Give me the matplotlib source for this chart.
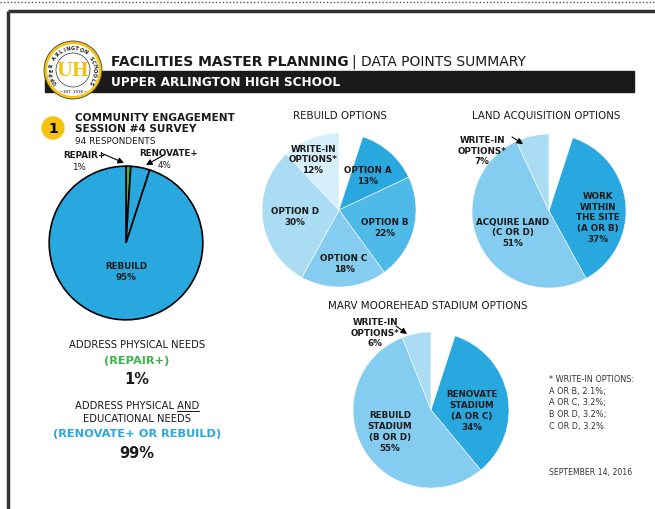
import numpy as np
import matplotlib
matplotlib.use("Agg")
import matplotlib.pyplot as plt
from matplotlib.patches import Circle, Rectangle

plt.rcParams['font.family'] = ['DejaVu Sans']

W, H = 655, 509

# ---------------- data ----------------
survey_labels = ["REPAIR+", "RENOVATE+", "REBUILD"]
survey_values = [1, 4, 95]

rebuild_labels = ["OPTION A", "OPTION B", "OPTION C", "OPTION D", "WRITE-IN\nOPTIONS*"]
rebuild_values = [13, 22, 18, 30, 12]

land_labels = ["WORK\nWITHIN\nTHE SITE\n(A OR B)", "ACQUIRE LAND\n(C OR D)", "WRITE-IN\nOPTIONS*"]
land_values = [37, 51, 7]

stadium_labels = ["RENOVATE\nSTADIUM\n(A OR C)", "REBUILD\nSTADIUM\n(B OR D)", "WRITE-IN\nOPTIONS*"]
stadium_values = [34, 55, 6]

writein_notes = ["* WRITE-IN OPTIONS:", "A OR B, 2.1%;", "A OR C, 3.2%;", "B OR D, 3.2%;", "C OR D, 3.2%."]

BLUE = "#29a8e0"
GREEN = "#3cb44a"
YELLOW = "#f5c30f"
DARK = "#1a1a1a"

fig = plt.figure(figsize=(W / 100, H / 100), dpi=100)
bg = fig.add_axes([0, 0, 1, 1])
bg.set_xlim(0, W)
bg.set_ylim(H, 0)
bg.axis("off")
bg.set_zorder(10)
bg.patch.set_alpha(0)

# frame
bg.plot([0, W], [2, 2], ls=(0, (1, 1.5)), color="#555555", lw=1)
bg.plot([8, 8], [11, H], color="#333333", lw=2.5, solid_capstyle="butt")
bg.plot([8, W], [11, 11], color="#333333", lw=2.5, solid_capstyle="butt")

# header bar
bg.add_patch(Rectangle((45, 71), 634 - 45, 21, color=DARK, zorder=2))
t1 = bg.text(111, 62, "FACILITIES MASTER PLANNING", fontsize=10.0, fontweight="bold",
             color=DARK, va="center", ha="left")
bg.text(111, 82, "UPPER ARLINGTON HIGH SCHOOL", fontsize=8.7, fontweight="bold",
        color="white", va="center", ha="left", zorder=3)

# logo
lx, ly, lr = 73, 70, 29
bg.add_patch(Circle((lx, ly), lr, facecolor=YELLOW, edgecolor="#444444", lw=0.6, zorder=4))
bg.add_patch(Circle((lx, ly), lr - 3, facecolor="white", edgecolor="none", zorder=4))
bg.add_patch(Circle((lx, ly), lr - 12, facecolor="white", edgecolor="#333333", lw=0.5, zorder=5))
bg.text(lx, ly + 1, "UH", fontsize=13, fontweight="bold", color=YELLOW, ha="center",
        va="center", zorder=6, family="DejaVu Serif")
ring_text = "UPPER ARLINGTON SCHOOLS"
angs = np.linspace(215, -35, len(ring_text))
for ch, a in zip(ring_text, angs):
    ar = np.deg2rad(a)
    bg.text(lx + (lr - 7.5) * np.cos(ar), ly - (lr - 7.5) * np.sin(ar), ch, fontsize=3.6,
            fontweight="bold", ha="center", va="center", rotation=a - 90, zorder=6, color=DARK)
bg.text(lx, ly + lr - 7.5, "• EST. 1918 •", fontsize=2.8, ha="center", va="center", zorder=6)

# section 1 header
bg.add_patch(Circle((53, 128), 11, color=YELLOW, zorder=3))
bg.text(53, 129, "1", fontsize=10, fontweight="bold", ha="center", va="center", zorder=4)
bg.text(75, 118, "COMMUNITY ENGAGEMENT", fontsize=7.6, fontweight="bold", color=DARK, va="center")
bg.text(75, 129, "SESSION #4 SURVEY", fontsize=7.6, fontweight="bold", color=DARK, va="center")
bg.text(75, 141, "94 RESPONDENTS", fontsize=6.4, color=DARK, va="center")


def pie_axes(cx, cy, r):
    ax = fig.add_axes([(cx - r) / W, 1 - (cy + r) / H, 2 * r / W, 2 * r / H])
    return ax


def fix_lims(ax):
    ax.set_xlim(-1.0, 1.0)
    ax.set_ylim(-1.0, 1.0)
    ax.axis("off")


# survey pie
ax1 = pie_axes(126, 243, 78)
ax1.pie(survey_values, colors=[GREEN, BLUE, BLUE], startangle=90, counterclock=False,
        radius=0.985, wedgeprops=dict(edgecolor="black", linewidth=1.2))
fix_lims(ax1)

lab_kw = dict(fontsize=6.3, fontweight="bold", color=DARK, ha="center", va="center",
              linespacing=1.25)
bg.text(84, 155, survey_labels[0], **lab_kw)
bg.text(79, 167, f"{survey_values[0]}%", fontsize=6.3, color=DARK, ha="center", va="center")
bg.text(169, 153, survey_labels[1], **lab_kw)
bg.text(165, 165, f"{survey_values[1]}%", fontsize=6.3, color=DARK, ha="center", va="center")
bg.text(126, 272, f"{survey_labels[2]}\n{survey_values[2]}%", **lab_kw)
arrow = dict(arrowstyle="-|>,head_length=0.35,head_width=0.18", color="black", lw=0.8,
             shrinkA=0, shrinkB=0)
bg.annotate("", xy=(124, 163), xytext=(101, 153), arrowprops=arrow)
bg.annotate("", xy=(146, 165), xytext=(164, 155), arrowprops=arrow)


def gap_pie(ax, values, colors):
    total = sum(values)
    start = 90 - (100 - total) * 3.6
    ax.pie([v / 100 for v in values], colors=colors, startangle=start, counterclock=False,
           normalize=False, radius=1, wedgeprops=dict(edgecolor="white", linewidth=0.4))
    fix_lims(ax)


# rebuild options
bg.text(340, 116, "REBUILD OPTIONS", fontsize=7.4, color=DARK, ha="center", va="center")
ax2 = pie_axes(339, 210, 77)
gap_pie(ax2, rebuild_values, [BLUE, "#4fb9e8", "#84cdf0", "#aadcf3", "#d6eefa"])
pos2 = [(368, 176), (385, 228), (344, 264), (295, 217), (313, 160)]
for (x, y), lab, v in zip(pos2, rebuild_labels, rebuild_values):
    bg.text(x, y, f"{lab}\n{v}%", **lab_kw)

# land acquisition
bg.text(546, 116, "LAND ACQUISITION OPTIONS", fontsize=7.4, color=DARK, ha="center", va="center")
ax3 = pie_axes(549, 211, 77)
gap_pie(ax3, land_values, [BLUE, "#84cdf0", "#aadcf3"])
pos3 = [(598, 218), (513, 233), (482, 151)]
for (x, y), lab, v in zip(pos3, land_labels, land_values):
    bg.text(x, y, f"{lab}\n{v}%", **lab_kw)
bg.annotate("", xy=(523, 144), xytext=(512, 137), arrowprops=arrow)

# stadium
bg.text(328, 306, "MARV MOOREHEAD STADIUM OPTIONS", fontsize=7.4, color=DARK, ha="left", va="center")
ax4 = pie_axes(431, 410, 78)
gap_pie(ax4, stadium_values, [BLUE, "#84cdf0", "#aadcf3"])
pos4 = [(472, 411), (390, 432), (375, 333)]
for (x, y), lab, v in zip(pos4, stadium_labels, stadium_values):
    bg.text(x, y, f"{lab}\n{v}%", **lab_kw)
bg.annotate("", xy=(407, 334), xytext=(396, 326), arrowprops=arrow)

# footnote
for i, t in enumerate(writein_notes):
    bg.text(549, 380 + i * 11.5, t, fontsize=5.9, color="#333333", ha="left", va="center")
bg.text(549, 473, "SEPTEMBER 14, 2016", fontsize=5.6, color="#333333", ha="left", va="center")

# left summary text
cx = 137
bg.text(cx, 345, "ADDRESS PHYSICAL NEEDS", fontsize=7.2, color=DARK, ha="center", va="center")
bg.text(cx, 361, "(REPAIR+)", fontsize=8.2, fontweight="bold", color=GREEN, ha="center", va="center")
bg.text(cx, 379, f"{survey_values[0]}%", fontsize=10.5, fontweight="bold", color=DARK,
        ha="center", va="center")
t_and = bg.text(cx, 406, "ADDRESS PHYSICAL AND", fontsize=7.2, color=DARK, ha="center", va="center")
bg.text(cx, 419, "EDUCATIONAL NEEDS", fontsize=7.2, color=DARK, ha="center", va="center")
bg.text(cx, 434, "(RENOVATE+ OR REBUILD)", fontsize=8.2, fontweight="bold", color=BLUE,
        ha="center", va="center")
bg.text(cx, 453, f"{survey_values[1] + survey_values[2]}%", fontsize=10.5, fontweight="bold",
        color=DARK, ha="center", va="center")

fig.canvas.draw()
r = fig.canvas.get_renderer()
# place second half of title right after the bold part
e1 = t1.get_window_extent(r)
x_after = e1.x1 + 3  # display px == data px here (dpi 100, full-figure axes)
bg.text(x_after, 62, "| DATA POINTS SUMMARY", fontsize=10.0, color=DARK, va="center", ha="left")

ext = t_and.get_window_extent(r)
tmp = bg.text(0, 0, "AND", fontsize=7.2)
w_and = tmp.get_window_extent(r).width
tmp.remove()
x1 = ext.x1
x0 = x1 - w_and
bg.plot([x0, x1], [410.5, 410.5], color=DARK, lw=0.7)

fig.savefig("out.png", dpi=100)
